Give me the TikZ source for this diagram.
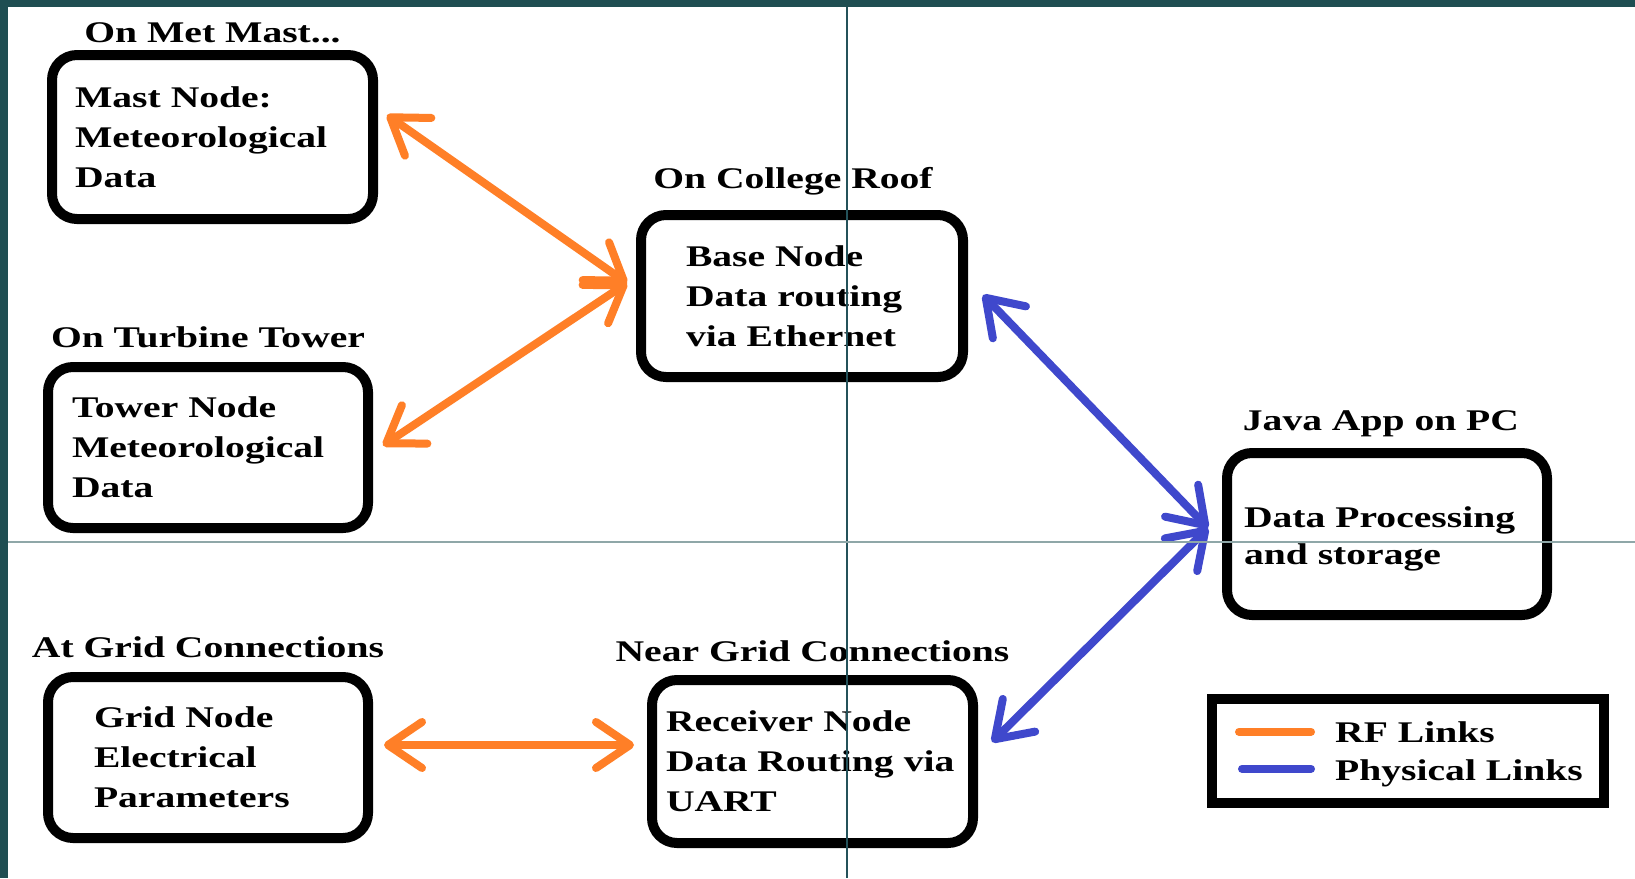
\documentclass[tikz,border=0pt]{standalone}
\usepackage{fontspec}
\setmainfont{Liberation Serif}[FakeStretch=1.32]
\usetikzlibrary{arrows.meta,positioning}
\definecolor{rfc}{RGB}{255,127,39}
\definecolor{phc}{RGB}{63,72,204}
\definecolor{frame}{RGB}{31,78,82}
\definecolor{guidev}{RGB}{36,82,90}
\definecolor{guideh}{RGB}{143,167,168}
\begin{document}
\begin{tikzpicture}[x=1pt,y=-1pt,
  every node/.style={font=\bfseries\fontsize{30}{40}\selectfont,inner sep=0pt},
  box/.style={draw,line width=10pt,rounded corners=25pt,align=left},
  title/.style={anchor=south},
  link/.style={line width=8pt,line cap=round,>={Straight Barb[length=34pt,width=46pt,round]},<->},
  rf/.style={link,draw=rfc},
  ph/.style={link,draw=phc}]
  \useasboundingbox (0,0) rectangle (1635,878);
  \fill[white] (0,0) rectangle (1635,878);
  \fill[frame] (0,0) rectangle (1635,7);
  \fill[frame] (0,0) rectangle (8,878);

  \node[box,minimum width=321pt,minimum height=164pt,text width=275pt,inner xsep=23pt] (mast) at (212.5,137) {Mast Node:\\Meteorological\\Data};
  \node[box,minimum width=320pt,minimum height=161pt,text width=272pt,inner xsep=24pt] (tower) at (208,447.5) {Tower Node\\Meteorological\\Data};
  \node[box,minimum width=322pt,minimum height=162pt,text width=232pt,inner xsep=45pt] (base) at (802,296) {Base Node\\Data routing\\via Ethernet};
  \node[box,minimum width=320pt,minimum height=162pt,text width=286pt,inner xsep=17pt] (java) at (1387,534) {\rule{0pt}{30pt}Data Processing\\[-3pt]and storage};
  \node[box,minimum width=320pt,minimum height=161pt,text width=228pt,inner xsep=46pt] (grid) at (208,757.5) {Grid Node\\Electrical\\Parameters};
  \node[box,minimum width=321pt,minimum height=163pt,text width=293pt,inner xsep=14pt] (receiver) at (812.5,761.5) {Receiver Node\\Data Routing via\\UART};

  \node[title,above=7pt of mast] (mastt) {On Met Mast...};
  \node[title,above=14pt of tower] (towert) {On Turbine Tower};
  \node[title,above=15pt of base,xshift=-9pt] (baset) {On College Roof};
  \node[title,above=11pt of java,xshift=-6pt] (javat) {Java App on PC};
  \node[title,above=14pt of grid] (gridt) {At Grid Connections};
  \node[title,above=13pt of receiver] (receivert) {Near Grid Connections};

  \draw[rf] ([shift={(9pt,22pt)}]mast.east) -- ([shift={(-9pt,13pt)}]base.west);
  \draw[rf] ([shift={(-9pt,13pt)}]base.west) -- ([shift={(10pt,2pt)}]tower.east);
  \draw[rf] ([shift={(11pt,12.5pt)}]grid.east) -- ([shift={(-13pt,16.5pt)}]receiver.west);
  \draw[ph] ([shift={(15pt,1pt)}]base.east) -- ([shift={(-14pt,6pt)}]java.west);
  \draw[ph] ([shift={(-14pt,6pt)}]java.west) -- ([shift={(14pt,19.5pt)}]receiver.east);

  \node[draw,line width=10pt,minimum width=392pt,minimum height=104pt] (legend) at (1408,751) {};
  \node[anchor=base west] (rfl) at (1335,742) {RF Links};
  \node[anchor=base west] (phl) at (1335,780) {Physical Links};
  \draw[rf,-] ([xshift=-24pt]rfl.west) -- ([xshift=-96pt]rfl.west);
  \draw[ph,-] ([shift={(-24pt,4pt)}]phl.west) -- ([shift={(-93pt,4pt)}]phl.west);

  \draw[guidev,line width=2pt] (847,7) -- (847,878);
  \draw[guideh,line width=1.5pt] (8,542) -- (1635,542);
\end{tikzpicture}
\end{document}
